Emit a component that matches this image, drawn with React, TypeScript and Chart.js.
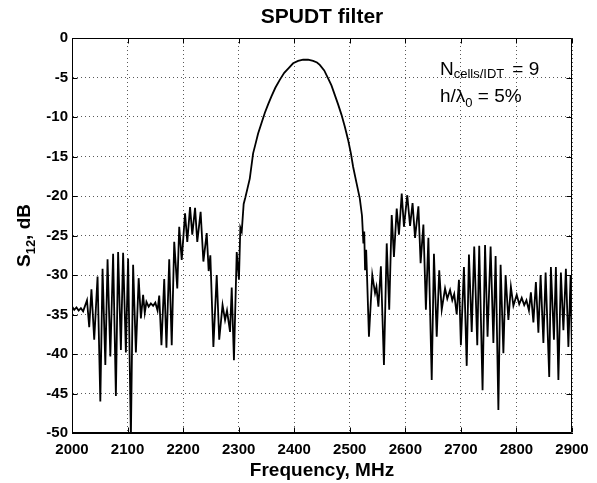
import React, { useEffect, useRef } from 'react';
import { Chart, registerables } from 'chart.js';

Chart.register(...registerables);

// Frequency samples (MHz)
const freqMHz = [
  2000, 2004, 2008, 2012, 2016, 2020, 2023, 2027, 2031, 2035,
  2040, 2046, 2051, 2055, 2060, 2064, 2069, 2074, 2079, 2083,
  2088, 2092, 2097, 2101, 2106, 2110, 2115, 2120, 2124, 2128,
  2131, 2134, 2138, 2142, 2146, 2150, 2154, 2157, 2161, 2166,
  2170, 2175, 2179.5, 2184, 2189.5, 2193, 2197.5, 2203.5, 2207.5, 2212.5,
  2216.5, 2221.5, 2225.5, 2231.5, 2236.5, 2242.5, 2246, 2249, 2254.5, 2260.5,
  2265, 2271, 2275.5, 2279, 2284.5, 2287.5, 2291.5, 2296.5, 2300.5, 2303,
  2305.5, 2309, 2312, 2316, 2320, 2326, 2330, 2335, 2341, 2347,
  2353, 2359, 2366, 2374, 2382, 2390, 2398, 2407, 2416, 2425,
  2434, 2441, 2446, 2454, 2461, 2467, 2473, 2479, 2485, 2491,
  2497, 2502, 2506, 2512, 2518, 2522, 2524.5, 2526, 2527.5, 2529.5,
  2531, 2534.5, 2540.5, 2545.5, 2548, 2551.5, 2556, 2561.5, 2566.5, 2571,
  2575.5, 2579.5, 2584.5, 2588.5, 2593.5, 2597.5, 2603.5, 2608.5, 2613, 2617.5,
  2623.5, 2627.5, 2632.5, 2637, 2641.5, 2647.5, 2651.5, 2656.5, 2661, 2665.5,
  2671.5, 2675.5, 2680.5, 2684.5, 2688, 2692.5, 2696.5, 2700, 2705.5, 2710.5,
  2714.5, 2719.5, 2724, 2729.5, 2733, 2739, 2743.5, 2748, 2753.5, 2758.5,
  2762.5, 2767.5, 2771.5, 2776.5, 2780.5, 2785.5, 2790, 2794.5, 2800.5, 2805,
  2809.5, 2814, 2818, 2822.5, 2826, 2830.5, 2835, 2839.5, 2843.5, 2848.5,
  2852.5, 2859, 2862, 2867.5, 2871, 2875.5, 2880, 2884.5, 2889, 2893.5,
  2897.5, 2900,
];

// S12 values (dB) at the frequencies above
const s12dB = [
  -34.0, -34.4, -34.1, -34.5, -34.2, -34.6, -34.0, -33.2, -36.6, -31.8,
  -38.2, -30.2, -46.0, -29.2, -41.4, -28.0, -40.3, -27.3, -45.3, -27.1,
  -39.5, -27.2, -39.8, -27.9, -50.5, -28.7, -39.8, -30.4, -35.5, -32.5,
  -34.8, -33.4, -34.0, -33.6, -33.9, -33.5, -34.5, -32.6, -38.9, -30.5,
  -39.2, -28.0, -38.9, -25.8, -31.7, -23.9, -28.1, -22.2, -25.8, -21.4,
  -24.9, -21.5, -25.8, -22.0, -28.3, -24.7, -29.5, -27.5, -39.1, -30.0,
  -38.2, -33.8, -35.7, -34.5, -37.2, -31.6, -40.8, -27.1, -30.6, -24.0,
  -24.5, -21.0, -20.2, -19.0, -17.8, -14.6, -13.5, -12.1, -10.8, -9.5,
  -8.4, -7.4, -6.3, -5.3, -4.4, -3.8, -3.2, -2.9, -2.75, -2.75,
  -2.9, -3.1, -3.4, -4.1, -5.1, -6.0, -7.2, -8.4, -9.7, -11.2,
  -12.9, -14.6, -16.3, -18.3, -20.3, -22.5, -26.0, -24.5, -29.4, -26.8,
  -30.0, -37.8, -30.0, -32.3, -31.5, -34.0, -28.9, -41.4, -26.0, -34.4,
  -22.4, -27.7, -21.6, -24.9, -19.7, -23.9, -19.9, -23.8, -20.9, -25.3,
  -21.3, -28.5, -23.6, -34.4, -25.3, -43.3, -27.3, -37.8, -29.4, -34.4,
  -31.7, -33.0, -31.9, -33.2, -32.4, -35.0, -30.6, -38.9, -29.0, -41.5,
  -27.4, -37.2, -26.4, -38.9, -26.3, -44.6, -26.2, -37.8, -26.4, -38.6,
  -27.6, -47.1, -28.7, -39.9, -30.0, -35.7, -31.5, -33.9, -32.5, -33.7,
  -32.9, -33.8, -33.2, -34.5, -32.2, -36.0, -30.9, -37.3, -30.0, -38.6,
  -29.7, -42.9, -29.0, -38.2, -29.0, -43.3, -29.7, -37.0, -29.2, -39.1,
  -30.0, -40.0,
];

const xRange = [2000, 2900];
const xStep = 100;
const yRange = [-50, 0];
const yStep = 5;

const FONT = "'Liberation Sans', Arial, Helvetica, sans-serif";

type Run = { t: string; size: number; dy: number; gap?: number; bold?: boolean };

function drawRuns(ctx: CanvasRenderingContext2D, runs: Run[], x: number, y: number, align: 'left' | 'center') {
  const fontOf = (r: Run) => `${r.bold ? 'bold ' : ''}${r.size}px ${FONT}`;
  let total = 0;
  for (const r of runs) {
    ctx.font = fontOf(r);
    total += ctx.measureText(r.t).width + (r.gap || 0);
  }
  let cx = align === 'center' ? x - total / 2 : x;
  for (const r of runs) {
    ctx.font = fontOf(r);
    cx += r.gap || 0;
    ctx.fillText(r.t, cx, y + r.dy);
    cx += ctx.measureText(r.t).width;
  }
}

const decorPlugin = {
  id: 'decor',
  afterDraw(chart: any) {
    const { ctx, chartArea: a, scales } = chart;
    ctx.save();
    ctx.strokeStyle = '#000';
    ctx.lineWidth = 1;
    const L = Math.round(a.left) + 0.5;
    const R = Math.round(a.right) - 0.5;
    const T = Math.round(a.top) + 0.5;
    const B = Math.round(a.bottom) - 0.5;
    ctx.beginPath();
    ctx.moveTo(L, T); ctx.lineTo(R, T); ctx.lineTo(R, B); ctx.lineTo(L, B); ctx.closePath();
    const tl = 5;
    for (let v = xRange[0]; v <= xRange[1]; v += xStep) {
      const px = Math.round(scales.x.getPixelForValue(v)) + 0.5;
      ctx.moveTo(px, B); ctx.lineTo(px, B - tl);
      ctx.moveTo(px, T); ctx.lineTo(px, T + tl);
    }
    for (let v = yRange[0]; v <= yRange[1]; v += yStep) {
      const py = Math.round(scales.y.getPixelForValue(v)) + 0.5;
      ctx.moveTo(L, py); ctx.lineTo(L + tl, py);
      ctx.moveTo(R, py); ctx.lineTo(R - tl, py);
    }
    ctx.stroke();

    ctx.fillStyle = '#000';
    ctx.textBaseline = 'alphabetic';
    // x-axis title
    ctx.font = `bold 19px ${FONT}`;
    ctx.textAlign = 'center';
    ctx.fillText('Frequency, MHz', (a.left + a.right) / 2, 476);
    ctx.textAlign = 'left';

    // y-axis title (rotated)
    ctx.save();
    ctx.translate(30, (a.top + a.bottom) / 2);
    ctx.rotate(-Math.PI / 2);
    drawRuns(ctx, [
      { t: 'S', size: 19, dy: 0, bold: true },
      { t: '12', size: 13, dy: 5, bold: true },
      { t: ', dB', size: 19, dy: 0, bold: true },
    ], 0, 0, 'center');
    ctx.restore();

    // annotations
    drawRuns(ctx, [
      { t: 'N', size: 19, dy: 0 },
      { t: 'cells/IDT', size: 13, dy: 3 },
      { t: '= 9', size: 19, dy: 0, gap: 8 },
    ], 440, 75, 'left');
    drawRuns(ctx, [
      { t: 'h/\u03BB', size: 19, dy: 0 },
      { t: '0', size: 13, dy: 5 },
      { t: ' = 5%', size: 19, dy: 0 },
    ], 440, 102, 'left');
    ctx.restore();
  },
};

export default function App() {
  const ref = useRef<HTMLCanvasElement | null>(null);
  useEffect(() => {
    document.body.style.margin = '0';
    const canvas = ref.current;
    if (!canvas) return;
    const points = freqMHz.map((f, i) => ({ x: f, y: s12dB[i] }));
    const tickFont = { family: FONT, size: 15, weight: 'bold' as const };
    const chart = new Chart(canvas, {
      type: 'line',
      data: {
        datasets: [
          {
            data: points,
            borderColor: '#000',
            borderWidth: 1.8,
            pointRadius: 0,
            tension: 0,
            fill: false,
          },
        ],
      },
      options: {
        animation: false,
        responsive: false,
        devicePixelRatio: 1,
        layout: { padding: { left: 0, right: 25, top: 0, bottom: 0 } },
        plugins: {
          legend: { display: false },
          tooltip: { enabled: false },
          title: {
            display: true,
            text: 'SPUDT filter',
            color: '#000',
            font: { family: FONT, size: 21, weight: 'bold' },
            padding: { top: 5, bottom: 7.8 },
            fullSize: false,
          },
        },
        scales: {
          x: {
            type: 'linear',
            min: xRange[0],
            max: xRange[1],
            ticks: {
              stepSize: xStep, color: '#000', font: tickFont, padding: 8, maxRotation: 0, autoSkip: false,
              callback: (v: any) => String(v),
            },
            grid: { color: 'rgba(0,0,0,0.65)', drawTicks: false, lineWidth: 1 },
            border: { display: true, color: '#000', width: 1, dash: [1, 3] },
            afterFit: (s: any) => { s.height = 50; s.paddingLeft = 0; s.paddingRight = 0; },
          },
          y: {
            type: 'linear',
            min: yRange[0],
            max: yRange[1],
            ticks: {
              stepSize: yStep, color: '#000', font: tickFont, padding: 4, autoSkip: false,
              callback: (v: any) => String(v),
            },
            grid: { color: 'rgba(0,0,0,0.65)', drawTicks: false, lineWidth: 1 },
            border: { display: true, color: '#000', width: 1, dash: [1, 3] },
            afterFit: (s: any) => { s.width = 72; s.paddingTop = 0; s.paddingBottom = 0; },
          },
        },
      },
      plugins: [decorPlugin],
    });
    return () => chart.destroy();
  }, []);
  return (
    <div style={{ width: 597, height: 483, background: '#fff' }}>
      <canvas ref={ref} width={597} height={483} />
    </div>
  );
}
